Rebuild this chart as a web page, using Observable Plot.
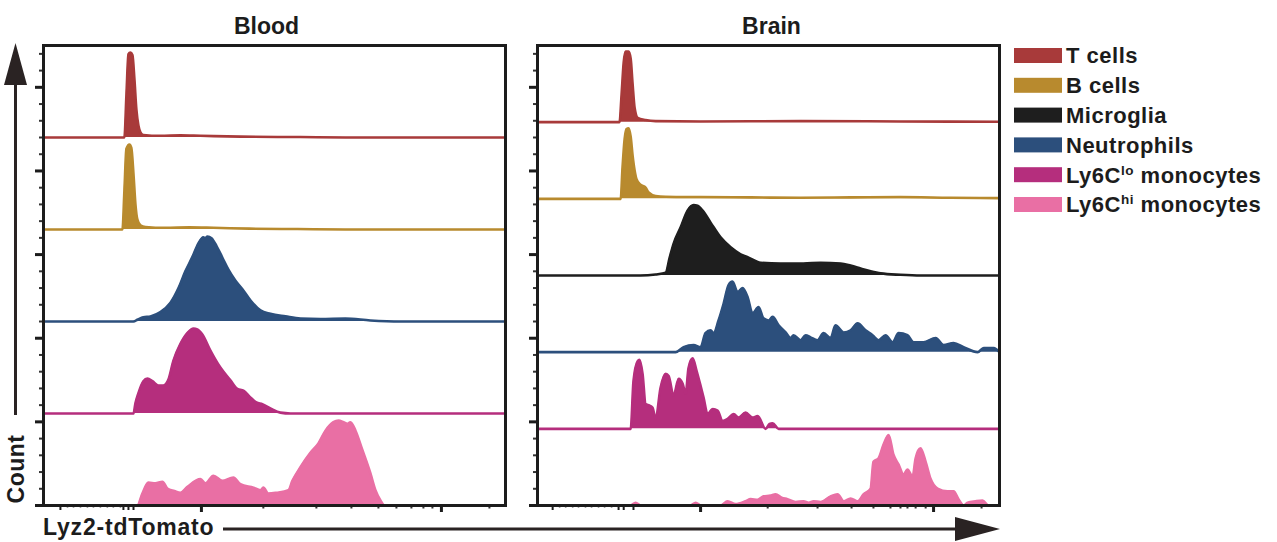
<!DOCTYPE html>
<html>
<head>
<meta charset="utf-8">
<script src="https://cdn.jsdelivr.net/npm/d3@7"></script>
<script src="https://cdn.jsdelivr.net/npm/@observablehq/plot@0.6"></script>
<style>
  body { margin: 0; background: #fff; }
  #wrap { position: relative; width: 1277px; height: 542px; background: #fff; overflow: hidden;
          font-family: 'Liberation Sans', Arial, sans-serif; }
  #wrap > svg, #wrap > div { position: absolute; top: 0; }
</style>
</head>
<body>
<div id="wrap"></div>
<script>
// ---------------- data ----------------
// x: Lyz2-tdTomato fluorescence on a log-decade display scale (3 = 10^3, 4 = 10^4)
// y: count as % of the population's mode
const panelTitles = ["Blood", "Brain"];
const seriesNames = ["T cells", "B cells", "Microglia", "Neutrophils", "Ly6C|lo| monocytes", "Ly6C|hi| monocytes"];
const seriesColors = ["#a83a3a", "#b88a2e", "#1e1e1e", "#2c4f7c", "#b52e7d", "#e96fa4"];

const bloodT = [[2.679,0],[2.6875,50],[2.696,98],[2.704,100],[2.7125,97],[2.721,68],[2.729,33],[2.7375,14],[2.746,6],[2.758,3],[2.829,2],[2.9125,2.5],[2.996,2],[3.1625,1],[3.4125,0.5],[3.6,0]];
const bloodB = [[2.671,0],[2.679,45],[2.6875,95],[2.7,100],[2.708,96],[2.717,65],[2.725,30],[2.733,12],[2.746,5],[2.767,3],[2.85,2],[2.95,2.5],[3.05,2],[3.2,1],[3.4,0.5],[3.6,0]];
const bloodNeut = [[2.717,0],[2.733,2],[2.758,5],[2.7875,6],[2.829,11],[2.871,22],[2.904,39],[2.933,59],[2.9625,76],[2.9875,92],[3.008,99],[3.017,98],[3.025,100],[3.042,98],[3.0625,89],[3.0875,75],[3.1125,61],[3.142,48],[3.171,38],[3.204,25],[3.246,13],[3.2875,9],[3.35,6],[3.4125,3.5],[3.496,3],[3.6,3.5],[3.704,1.2],[3.829,0]];
const bloodLo = [[2.717,0],[2.725,12],[2.7375,24],[2.758,38],[2.775,41],[2.796,38],[2.821,33],[2.842,33],[2.8625,40],[2.883,62],[2.9125,82],[2.942,95],[2.967,100],[2.983,99],[3.004,93],[3.0375,74],[3.079,54],[3.121,39],[3.15,29],[3.175,27],[3.204,19],[3.229,13],[3.254,11],[3.2875,6],[3.329,1],[3.371,0]];
const bloodHi = [[2.733,0],[2.754,14],[2.779,27],[2.808,26],[2.8375,28],[2.858,20],[2.8875,17],[2.9125,15],[2.942,22],[2.996,31],[3.017,26],[3.05,35],[3.0875,29],[3.133,33],[3.1625,25],[3.217,21],[3.246,18],[3.258,21],[3.279,14],[3.3125,15],[3.3625,18],[3.379,29],[3.4125,45],[3.454,62],[3.4875,73],[3.517,88],[3.55,98],[3.571,100],[3.592,98],[3.608,96],[3.621,98],[3.642,88],[3.671,65],[3.704,38],[3.725,18],[3.746,6],[3.7625,0]];

const brainT = [[2.652,0],[2.661,40],[2.67,85],[2.678,100],[2.691,100],[2.7,90],[2.708,55],[2.717,20],[2.73,6],[2.764,3],[2.807,1.5],[3.0,1],[3.429,1.5],[3.858,1],[4.283,0.5]];
const brainB = [[2.657,0],[2.665,45],[2.674,85],[2.682,99],[2.691,100],[2.7,88],[2.708,62],[2.717,40],[2.725,28],[2.742,20],[2.764,16],[2.777,9],[2.807,4],[2.85,3],[3.0,2.5],[3.215,2],[3.429,1.5],[3.644,2],[3.858,2.5],[4.073,1.5],[4.283,1]];
const brainMicro = [[2.742,0],[2.807,1.5],[2.85,4],[2.867,25],[2.884,45],[2.914,68],[2.944,92],[2.97,100],[2.987,99],[3.009,92],[3.043,75],[3.086,54],[3.129,40],[3.172,30],[3.202,26],[3.258,18],[3.343,17],[3.442,17],[3.515,18],[3.601,17],[3.644,14],[3.687,10],[3.73,6],[3.773,3],[3.858,1],[3.944,0]];
const brainNeut = [[2.893,0],[2.927,7],[2.97,10],[3.0,7],[3.021,27],[3.043,31],[3.056,27],[3.077,45],[3.099,69],[3.12,95],[3.137,100],[3.159,85],[3.18,91],[3.202,78],[3.223,55],[3.249,64],[3.27,48],[3.292,45],[3.309,50],[3.335,38],[3.365,28],[3.386,20],[3.399,24],[3.429,17],[3.451,24],[3.472,21],[3.502,17],[3.528,27],[3.558,20],[3.579,38],[3.614,28],[3.644,31],[3.674,41],[3.708,31],[3.738,24],[3.764,17],[3.794,24],[3.824,14],[3.85,27],[3.888,24],[3.914,14],[3.957,14],[4.009,20],[4.043,10],[4.086,13],[4.129,7],[4.189,0],[4.215,6],[4.258,6],[4.283,0]];
const brainLo = [[2.7,0],[2.712,68],[2.73,96],[2.738,98],[2.751,78],[2.764,35],[2.781,33],[2.794,30],[2.807,14],[2.828,58],[2.85,78],[2.863,75],[2.884,47],[2.906,71],[2.923,64],[2.936,50],[2.948,86],[2.966,100],[2.983,82],[3.0,61],[3.013,44],[3.03,21],[3.052,28],[3.073,26],[3.094,11],[3.116,14],[3.142,21],[3.163,16],[3.193,23],[3.223,16],[3.245,18],[3.279,0],[3.296,7],[3.309,8],[3.335,0]];
const brainHi = [[2.7,0],[2.721,4],[2.742,0],[2.957,0],[2.979,4],[3.0,0],[3.086,0],[3.116,6],[3.15,2],[3.193,6],[3.215,9],[3.245,8],[3.27,13],[3.3,14],[3.322,16],[3.348,11],[3.373,9],[3.408,5],[3.442,6],[3.464,4],[3.485,6],[3.515,5],[3.558,13],[3.588,16],[3.614,6],[3.644,10],[3.674,6],[3.7,16],[3.73,24],[3.742,62],[3.764,67],[3.785,86],[3.807,100],[3.828,72],[3.85,58],[3.871,44],[3.888,51],[3.91,41],[3.923,67],[3.944,81],[3.966,62],[3.987,38],[4.017,24],[4.06,20],[4.086,20],[4.107,9],[4.129,0],[4.146,4],[4.18,6],[4.21,7],[4.236,0]];

// axis ticks (no tick labels in the original)
const bloodXDomain = [2.342, 4.267];
const brainXDomain = [2.300, 4.283];
const bloodTicksMajor = [3, 4];
const bloodTicksMid = [2.4125, 2.675, 2.696, 2.717];
const bloodTicksMinor = [3.258, 3.479, 3.625, 3.7375, 3.8125, 3.875, 3.925, 3.9625, 4.2];
const bloodTicksDots = [2.442, 2.467, 2.496, 2.525, 2.55, 2.579, 2.608, 2.633, 2.6625];
const brainTicksMajor = [3, 4];
const brainTicksMid = [2.365, 2.648, 2.67, 2.712];
const brainTicksMinor = [3.288, 3.502, 3.648, 3.742, 3.815, 3.858, 3.888, 3.923, 3.966, 4.206];
const brainTicksDots = [2.395, 2.421, 2.451, 2.476, 2.506, 2.532, 2.562, 2.588, 2.618];
const yTicksMajor = [0, 1, 2, 3, 4, 5];
const yTicksMinor = [0.2,0.4,0.6,0.8,1.2,1.4,1.6,1.8,2.2,2.4,2.6,2.8,3.2,3.4,3.6,3.8,4.2,4.4,4.6,4.8,5.2,5.4];
const yDomain = [0, 5.5];

// ---------------- drawing ----------------
const INK = "#1c1c1c";
const FONT = "'Liberation Sans', Arial, sans-serif";

function buildMarks(list, rowH, peak, xDomain) {
  const marks = [];
  list.forEach((s, i) => {
    const base = (list.length - 1 - i) * rowH;
    const pts = s.values.slice();
    if (pts[0][0] > xDomain[0]) pts.unshift([xDomain[0], 0]);
    if (pts[pts.length - 1][0] < xDomain[1]) pts.push([xDomain[1], 0]);
    const data = pts.map(([u, c]) => ({u, base, top: base + c * peak}));
    marks.push(Plot.area(data, {x1: "u", y1: "base", y2: "top", fill: s.color, curve: "monotone-x"}));
    marks.push(Plot.line(data, {x: "u", y: "top", stroke: s.color, strokeWidth: 2.6, curve: "monotone-x"}));
  });
  return marks;
}

function panel({title, titleDx, list, rowH, peak, xDomain, tMajor, tMid, tMinor, tDots, left, marginLeft, marginRight}) {
  const width = marginLeft + 462 + marginRight;
  const noText = () => "";
  const svg = Plot.plot({
    width, height: 542,
    marginLeft, marginRight, marginTop: 45, marginBottom: 37,
    style: {fontFamily: FONT, background: "transparent", overflow: "visible"},
    x: {type: "linear", domain: xDomain},
    y: {domain: yDomain},
    marks: [
      ...buildMarks(list, rowH, peak, xDomain),
      Plot.axisY({ticks: yTicksMajor, tickSize: 8, strokeWidth: 3, stroke: INK, tickFormat: noText, label: null}),
      Plot.axisY({ticks: yTicksMinor, tickSize: 4, strokeWidth: 2, stroke: "#333", tickFormat: noText, label: null}),
      Plot.axisX({ticks: tMajor, tickSize: 7, strokeWidth: 3, stroke: INK, tickFormat: noText, label: null}),
      Plot.axisX({ticks: tMid, tickSize: 5, strokeWidth: 2, stroke: INK, tickFormat: noText, label: null}),
      Plot.axisX({ticks: tMinor, tickSize: 3.5, strokeWidth: 2, stroke: "#333", tickFormat: noText, label: null}),
      Plot.axisX({ticks: tDots, tickSize: 2.5, strokeWidth: 1.6, stroke: "#444", tickFormat: noText, label: null}),
      Plot.frame({stroke: INK, strokeWidth: 3}),
      Plot.text([title], {text: d => d, frameAnchor: "top", dy: -28, dx: titleDx, fontSize: 23, fontWeight: "bold", fill: INK})
    ]
  });
  svg.style.position = "absolute";
  svg.style.left = left + "px";
  svg.style.top = "0px";
  return svg;
}

const wrap = document.getElementById("wrap");

const bloodList = [
  {color: seriesColors[0], values: bloodT},
  {color: seriesColors[1], values: bloodB},
  {color: seriesColors[3], values: bloodNeut},
  {color: seriesColors[4], values: bloodLo},
  {color: seriesColors[5], values: bloodHi}
];
const brainList = [
  {color: seriesColors[0], values: brainT},
  {color: seriesColors[1], values: brainB},
  {color: seriesColors[2], values: brainMicro},
  {color: seriesColors[3], values: brainNeut},
  {color: seriesColors[4], values: brainLo},
  {color: seriesColors[5], values: brainHi}
];

const yUnitPx = 460 / (yDomain[1] - yDomain[0]);
wrap.appendChild(panel({
  title: panelTitles[0], titleDx: -8, list: bloodList,
  rowH: (yDomain[1] - yDomain[0]) / bloodList.length, peak: 85 / yUnitPx / 100,
  xDomain: bloodXDomain, tMajor: bloodTicksMajor, tMid: bloodTicksMid, tMinor: bloodTicksMinor, tDots: bloodTicksDots,
  left: 0, marginLeft: 43, marginRight: 10
}));
wrap.appendChild(panel({
  title: panelTitles[1], titleDx: 3, list: brainList,
  rowH: (yDomain[1] - yDomain[0]) / brainList.length, peak: 70.5 / yUnitPx / 100,
  xDomain: brainXDomain, tMajor: brainTicksMajor, tMid: brainTicksMid, tMinor: brainTicksMinor, tDots: brainTicksDots,
  left: 515, marginLeft: 22, marginRight: 15
}));

// overlay: axis arrows, axis titles and legend
const NS = "http://www.w3.org/2000/svg";
const ov = document.createElementNS(NS, "svg");
ov.setAttribute("width", 1277); ov.setAttribute("height", 542);
ov.style.position = "absolute"; ov.style.left = "0px"; ov.style.top = "0px";
ov.style.pointerEvents = "none";
function el(tag, attrs, parent) {
  const e = document.createElementNS(NS, tag);
  for (const k in attrs) e.setAttribute(k, attrs[k]);
  (parent || ov).appendChild(e);
  return e;
}
const ARROW = "#2a2323";
// vertical Count arrow
el("line", {x1: 15.5, y1: 415, x2: 15.5, y2: 80, stroke: ARROW, "stroke-width": 3});
el("polygon", {points: "15.5,43 4,85 27,85", fill: ARROW});
const ct = el("text", {x: 0, y: 0, transform: "translate(23.5,469) rotate(-90)", "text-anchor": "middle",
  "font-family": FONT, "font-weight": "bold", "font-size": 23, "letter-spacing": 0.5, fill: INK});
ct.textContent = "Count";
// horizontal Lyz2-tdTomato arrow
const xt = el("text", {x: 43, y: 535, "font-family": FONT, "font-weight": "bold", "font-size": 23, "letter-spacing": 0.8, fill: INK});
xt.textContent = "Lyz2-tdTomato";
el("line", {x1: 223, y1: 529, x2: 960, y2: 529, stroke: ARROW, "stroke-width": 3});
el("polygon", {points: "955,517 1000,529 955,541", fill: ARROW});

// legend
seriesNames.forEach((name, i) => {
  const cy = 55.5 + i * 29.8;
  el("rect", {x: 1014, y: cy - 7.5, width: 48, height: 15, fill: seriesColors[i]});
  const t = el("text", {x: 1066, y: cy + 7.8, "font-family": FONT, "font-weight": "bold", "font-size": 22, "letter-spacing": 0.5, fill: INK});
  const parts = name.split("|");
  parts.forEach((p, j) => {
    const ts = el("tspan", {}, t);
    if (j === 1) { ts.setAttribute("font-size", 13.5); ts.setAttribute("dy", -8); }
    if (j === 2) { ts.setAttribute("dy", 8); }
    ts.textContent = p;
  });
});
wrap.appendChild(ov);
</script>
</body>
</html>
